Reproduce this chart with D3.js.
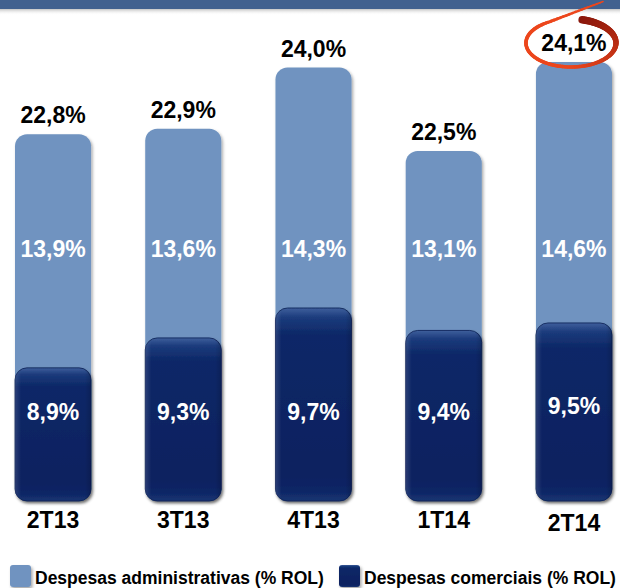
<!DOCTYPE html>
<html>
<head>
<meta charset="utf-8">
<script src="https://cdn.jsdelivr.net/npm/d3@7"></script>
<style>
  body { margin: 0; background: #fff; }
  svg { display: block; font-family: "Liberation Sans", Arial, sans-serif; font-weight: bold; }
</style>
</head>
<body>
<div id="chart"></div>
<script>
// periods and values (% of ROL)
var periods = ["2T13", "3T13", "4T13", "1T14", "2T14"];
var administrativas = [13.9, 13.6, 14.3, 13.1, 14.6];
var comerciais = [8.9, 9.3, 9.7, 9.4, 9.5];
var totais = [22.8, 22.9, 24.0, 22.5, 24.1];
var seriesNames = ["Despesas administrativas (% ROL)", "Despesas comerciais (% ROL)"];

var width = 620, height = 588;
var base = 501;

var ptBR = d3.formatLocale({decimal: ",", thousands: ".", grouping: [3], currency: ["R$", ""]});
var fmt = function(v) { return ptBR.format(".1f")(v) + "%"; };

var svg = d3.select("#chart").append("svg")
    .attr("width", width)
    .attr("height", height);

var defs = svg.append("defs");

// soft shadow for the bars
var shadow = defs.append("filter").attr("id", "shadow")
    .attr("x", "-20%").attr("y", "-10%").attr("width", "140%").attr("height", "130%");
shadow.append("feDropShadow")
    .attr("dx", 1.5).attr("dy", 2).attr("stdDeviation", 1.8)
    .attr("flood-color", "#000").attr("flood-opacity", 0.35);

// bevelled dark bar
var gDark = defs.append("linearGradient").attr("id", "darkGrad")
    .attr("x1", 0).attr("y1", 0).attr("x2", 0).attr("y2", 1);
[[0, "#3f5f9c"], [0.05, "#1b3b7c"], [0.14, "#0d2867"], [0.86, "#0a2160"], [0.95, "#0d2666"], [1, "#1b3672"]]
    .forEach(function(s) { gDark.append("stop").attr("offset", s[0]).attr("stop-color", s[1]); });

var gDarkSide = defs.append("linearGradient").attr("id", "darkSide")
    .attr("x1", 0).attr("y1", 0).attr("x2", 1).attr("y2", 0);
[[0, "#ffffff", 0.12], [0.08, "#ffffff", 0], [0.92, "#000000", 0], [1, "#000000", 0.15]]
    .forEach(function(s) { gDarkSide.append("stop").attr("offset", s[0]).attr("stop-color", s[1]).attr("stop-opacity", s[2]); });

// top band
var gTop = defs.append("linearGradient").attr("id", "topShade")
    .attr("x1", 0).attr("y1", 0).attr("x2", 0).attr("y2", 1);
gTop.append("stop").attr("offset", 0).attr("stop-color", "#7a7a7a").attr("stop-opacity", 0.6);
gTop.append("stop").attr("offset", 1).attr("stop-color", "#ffffff").attr("stop-opacity", 0);

svg.append("rect").attr("x", 0).attr("y", 8).attr("width", width).attr("height", 7)
    .attr("fill", "url(#topShade)");
svg.append("rect").attr("x", 0).attr("y", 0).attr("width", width).attr("height", 9)
    .attr("fill", "#42618f");

// scales
var x = d3.scaleBand()
    .domain(periods)
    .range([15, 612])
    .paddingInner(0.416)
    .paddingOuter(0);

// the source chart is drawn on a broken axis, one scale per stack level
var yTotal = d3.scaleLinear().domain([16.2, 24.1]).range([base, 62]);
var yCom = d3.scaleLinear().domain([7.12, 9.7]).range([base, 308]);

var data = periods.map(function(p, i) {
    return {period: p, adm: administrativas[i], com: comerciais[i], total: totais[i]};
});

var bw = x.bandwidth();
var r = 12;

// administrative bars (full stack height)
svg.selectAll(".adm")
    .data(data)
    .enter()
    .append("rect")
    .attr("class", "adm")
    .attr("x", function(d) { return x(d.period); })
    .attr("y", function(d) { return yTotal(d.total); })
    .attr("width", bw)
    .attr("height", function(d) { return base - yTotal(d.total); })
    .attr("rx", r)
    .attr("fill", "#6f93c0")
    .attr("filter", "url(#shadow)");

// commercial bars
svg.selectAll(".com")
    .data(data)
    .enter()
    .append("rect")
    .attr("class", "com")
    .attr("x", function(d) { return x(d.period); })
    .attr("y", function(d) { return yCom(d.com); })
    .attr("width", bw)
    .attr("height", function(d) { return base - yCom(d.com); })
    .attr("rx", r)
    .attr("fill", "url(#darkGrad)")
    .attr("stroke", "#0a1e52")
    .attr("stroke-width", 0.8)
    .attr("filter", "url(#shadow)");

svg.selectAll(".comSide")
    .data(data)
    .enter()
    .append("rect")
    .attr("class", "comSide")
    .attr("x", function(d) { return x(d.period); })
    .attr("y", function(d) { return yCom(d.com); })
    .attr("width", bw)
    .attr("height", function(d) { return base - yCom(d.com); })
    .attr("rx", r)
    .attr("fill", "url(#darkSide)");

// totals on top
svg.selectAll(".totLabel")
    .data(data)
    .enter()
    .append("text")
    .attr("class", "totLabel")
    .attr("x", function(d) { return x(d.period) + bw / 2; })
    .attr("y", function(d) { return yTotal(d.total) - 11; })
    .attr("text-anchor", "middle")
    .attr("font-size", 23)
    .attr("fill", "#000")
    .text(function(d) { return fmt(d.total); });

// values inside the bars
svg.selectAll(".admLabel")
    .data(data)
    .enter()
    .append("text")
    .attr("class", "admLabel")
    .attr("x", function(d) { return x(d.period) + bw / 2; })
    .attr("y", 257)
    .attr("text-anchor", "middle")
    .attr("font-size", 23)
    .attr("fill", "#fff")
    .text(function(d) { return fmt(d.adm); });

svg.selectAll(".comLabel")
    .data(data)
    .enter()
    .append("text")
    .attr("class", "comLabel")
    .attr("x", function(d) { return x(d.period) + bw / 2; })
    .attr("y", function(d, i) { return i == data.length - 1 ? 414 : 420; })
    .attr("text-anchor", "middle")
    .attr("font-size", 23)
    .attr("fill", "#fff")
    .text(function(d) { return fmt(d.com); });

// category labels
svg.selectAll(".cat")
    .data(data)
    .enter()
    .append("text")
    .attr("class", "cat")
    .attr("x", function(d) { return x(d.period) + bw / 2; })
    .attr("y", function(d, i) { return i == data.length - 1 ? 531 : 528; })
    .attr("text-anchor", "middle")
    .attr("font-size", 23)
    .attr("fill", "#000")
    .text(function(d) { return d.period; });

// red hand-drawn ellipse round the last total
var last = data[data.length - 1];
var cx = x(last.period) + bw / 2 - 3;
var cy = yTotal(last.total) - 19;
var rx = 45, ry = 24;
// starts thick at the top right, runs clockwise and leaves as a thin tail at the upper left
var t0 = -Math.PI * 0.42, t1 = Math.PI * 1.33;
var n = 100;
var colorAt = d3.interpolateRgb("#8a170b", "#ec461c");
var pts = [];
for (var k = 0; k <= n; k++) {
    var t = t0 + (t1 - t0) * k / n;
    pts.push([cx + rx * Math.cos(t), cy + ry * Math.sin(t)]);
}
var endP = pts[pts.length - 1];
var tx = -rx * Math.sin(t1), ty = ry * Math.cos(t1);
var tl = Math.sqrt(tx * tx + ty * ty);
for (var k = 1; k <= 18; k++) {
    pts.push([endP[0] + 3.2 * k * tx / tl, endP[1] + 3.2 * k * (ty / tl - 0.06)]);
}
var ring = svg.append("g").attr("stroke-linecap", "round");
for (var k = 0; k < pts.length - 1; k++) {
    var f = k / (pts.length - 1);
    var w = f < 0.35 ? 7.5 - 11 * f : (f < 0.8 ? 3.6 : 3.6 - (f - 0.8) * 10);
    ring.append("line")
        .attr("x1", pts[k][0]).attr("y1", pts[k][1])
        .attr("x2", pts[k + 1][0]).attr("y2", pts[k + 1][1])
        .attr("stroke", colorAt(Math.min(1, f * 2.2)))
        .attr("stroke-width", Math.max(1.2, w));
}

// legend
var legend = svg.append("g").attr("transform", "translate(0,565)");
var legendItems = [
    {name: seriesNames[0], fill: "#6f93c0", x: 10},
    {name: seriesNames[1], fill: "url(#darkGrad)", x: 339}
];
legend.selectAll("rect")
    .data(legendItems)
    .enter()
    .append("rect")
    .attr("x", function(d) { return d.x; })
    .attr("y", 0)
    .attr("width", 21)
    .attr("height", 22)
    .attr("rx", 3)
    .attr("fill", function(d) { return d.fill; })
    .attr("filter", "url(#shadow)");
legend.selectAll("text")
    .data(legendItems)
    .enter()
    .append("text")
    .attr("x", function(d) { return d.x + 25; })
    .attr("y", 19)
    .attr("font-size", 17.5)
    .attr("fill", "#000")
    .text(function(d) { return d.name; });
</script>
</body>
</html>
